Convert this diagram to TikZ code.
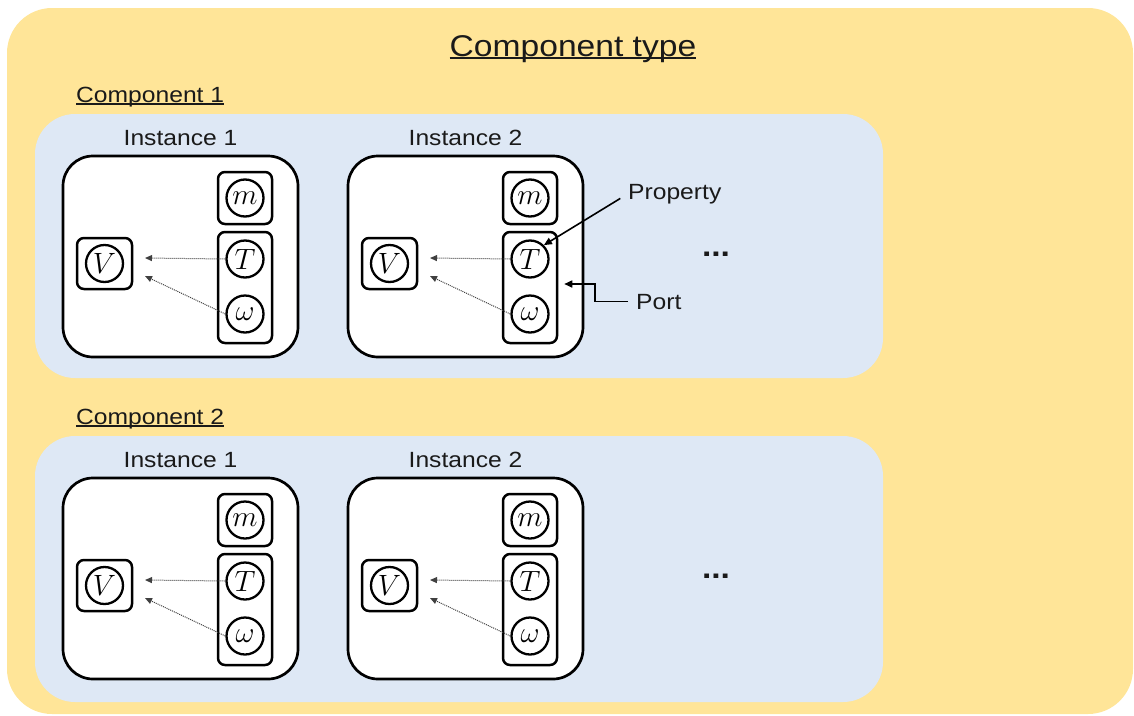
\documentclass[tikz,border=0pt]{standalone}
\usepackage{graphicx}
\usepackage{fontspec}
\setmainfont[FakeStretch=1.12]{Liberation Sans}
\usetikzlibrary{arrows.meta,calc}
\definecolor{outerY}{HTML}{FFE598}
\definecolor{panelB}{HTML}{DEE8F5}
\definecolor{txt}{HTML}{1A1A1A}
\newcommand\myul[1]{\setbox0\hbox{#1}\rlap{\rule[-2.6pt]{\wd0}{1.3pt}}\box0}
\newcommand\mth[1]{\scalebox{1.18}{$#1$}}
\tikzset{
  panel/.style={fill=panelB, rounded corners=40},
  instbox/.style={draw, fill=white, line width=2.7pt, rounded corners=30},
  smallbox/.style={draw, line width=2.5pt, rounded corners=7, inner sep=0pt},
  prop/.style={draw, circle, line width=2.3pt, minimum size=37pt, inner sep=0pt, font=\fontsize{24.88}{27}\selectfont},
  lbl/.style={inner sep=0pt, text=txt, font=\fontsize{22}{26}\selectfont},
  dep/.style={densely dotted, line width=1pt, black!75, -{Triangle[length=7pt,width=6pt]}},
  callout/.style={line width=1.6pt, -{Triangle[length=8pt,width=7pt]}},
  dotsl/.style={lbl, anchor=base, font=\bfseries\fontsize{30}{32}\selectfont},
}
\newcommand\mkinst[4]{% #1 id, #2 dx, #3 dy, #4 label
  \begin{scope}[shift={(#2,#3)}]
    \node[lbl, anchor=base] (il#1) at (180.5,145) {#4};
    \draw[instbox] (63,156) rectangle (298,357);
    \node[smallbox, minimum width=54pt, minimum height=52pt] (mb#1) at (245,198) {};
    \node[prop] (m#1) at (245,198) {\mth{m}};
    \node[smallbox, minimum width=54pt, minimum height=111pt] (pb#1) at (245,287.5) {};
    \node[prop] (T#1) at (245,259) {\mth{T}};
    \node[prop] (w#1) at (245,314) {\mth{\omega}};
    \node[smallbox, minimum width=55pt, minimum height=51pt] (vb#1) at (104.5,263.5) {};
    \node[prop] (V#1) at (104.5,263.5) {\mth{V}};
    \coordinate (vt#1) at (145,258);
    \coordinate (vw#1) at (145,276);
    \draw[dep] (T#1.west) -- (vt#1);
    \draw[dep] (w#1.west) -- (vw#1);
  \end{scope}
}
\begin{document}
\begin{tikzpicture}[x=1pt,y=-1pt]
\useasboundingbox (0,0) rectangle (1134,715);
\fill[outerY, rounded corners=45] (7,8) rectangle (1133,714);
\node[lbl, anchor=base, font=\fontsize{30}{34}\selectfont] (title) at (573,56) {\myul{Component type}};
% Component 1
\node[lbl, anchor=base west] (c1) at (76,102) {\myul{Component 1}};
\fill[panel] (35,114) rectangle (883,378);
\mkinst{a}{0}{0}{Instance 1}
\mkinst{b}{285}{0}{Instance 2}
\node[dotsl] (dots1) at (716,256) {...};
% Component 2
\node[lbl, anchor=base west] (c2) at (76,424) {\myul{Component 2}};
\fill[panel] (35,436) rectangle (883,702);
\mkinst{c}{0}{322}{Instance 1}
\mkinst{d}{285}{322}{Instance 2}
\node[dotsl] (dots2) at (716,578) {...};
% callouts
\node[lbl, anchor=base west] (propl) at (628,199) {Property};
\node[lbl, anchor=base west] (portl) at (636,309) {Port};
\draw[callout, shorten <=9pt] (propl.west) -- (Tb.north east);
\draw[callout] ([xshift=-8pt]portl.west) -- ++(-33,0) |- ([xshift=6pt,yshift=3.5pt]pbb.east);
\end{tikzpicture}
\end{document}
